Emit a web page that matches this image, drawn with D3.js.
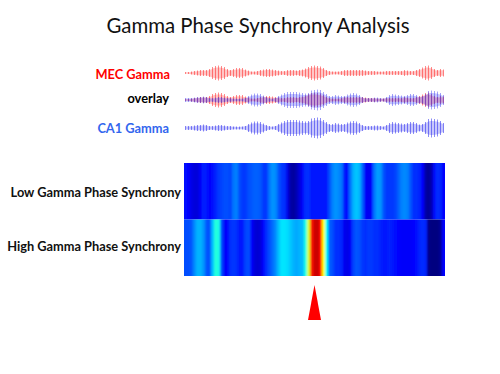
<!DOCTYPE html>
<html><head><meta charset="utf-8">
<script src="https://cdnjs.cloudflare.com/ajax/libs/d3/7.8.5/d3.min.js"></script>
<style>html,body{margin:0;padding:0;background:#fff}svg{display:block}text{font-family:Lato,"Open Sans",sans-serif}</style>
</head><body><svg id="c" width="500" height="374"></svg>
<script>
const title = "Gamma Phase Synchrony Analysis";
const waveLabels = ["MEC Gamma","overlay","CA1 Gamma"];
const heatLabels = ["Low Gamma Phase Synchrony","High Gamma Phase Synchrony"];
const mecAmp = [1,1,1.5,2,2.5,3,3,3,4,6,7,7.5,7,6,4,3,4,5,5,5,3.5,2.5,1.5,1.5,2,3,3.5,4,4,3.5,3,2.5,2,2,3,3,3,2.5,3,3.5,4.5,6,7,7.5,7,6.5,5,3,2,1.5,1.5,1.5,2,3,3,3,3,3,3,3,2.5,2,2,2,1.5,1.5,1.5,2,2,2,2,2,2,3,2.5,2,2,3,4,5.5,7,7.5,6,4,3,4,3.5];
const ca1Amp = [2,2,2,2.5,3,3,3.5,3,2,2,2.5,3,3,2.5,2,2,1.5,1.5,1.5,1.5,2,4,5.5,6.5,6.5,6,4.5,3,2,1.5,2,4,5.5,7,8,8,8,8,7.5,7,6.5,7,9.5,10,10.5,10,8,6,4,4,5,4.5,4,4,5.5,6.5,7,6.5,5,3,2,2,2,2.5,2.5,2,1.5,3,5,6,5.5,5,4.5,4,5,6,6,5,3.5,4,6,9,9.5,9,8.5,7,5];
const lowSync = [.14,.13,.10,.09,.09,.12,.16,.15,.13,.14,.16,.18,.19,.20,.20,.19,.24,.25,.20,.18,.18,.20,.21,.22,.22,.21,.18,.18,.24,.27,.26,.21,.18,.17,.10,.04,.03,.05,.09,.12,.17,.17,.15,.15,.15,.15,.15,.15,.20,.25,.27,.26,.24,.15,.14,.24,.30,.32,.30,.22,.12,.11,.13,.24,.28,.27,.21,.18,.18,.18,.19,.22,.25,.26,.25,.21,.17,.17,.16,.13,.04,.02,.05,.14,.17,.16,.13];
const highSync = [.20,.20,.21,.26,.30,.30,.27,.21,.20,.31,.41,.40,.20,.12,.13,.17,.18,.17,.15,.15,.19,.20,.13,.09,.08,.09,.13,.17,.20,.23,.26,.31,.35,.35,.34,.32,.30,.29,.30,.31,.40,.58,.85,.92,.93,.86,.62,.38,.22,.20,.17,.17,.16,.11,.10,.12,.19,.21,.20,.18,.17,.18,.18,.17,.17,.16,.15,.15,.16,.15,.14,.13,.12,.12,.12,.12,.13,.14,.16,.17,.16,.01,.00,.00,.00,.02,.13];

const svg = d3.select("#c");
const defs = svg.append("defs");
defs.append("filter").attr("id","soft").attr("x","-5%").attr("y","-5%").attr("width","110%").attr("height","110%")
  .append("feGaussianBlur").attr("stdDeviation",0.9);
defs.append("filter").attr("id","softer").attr("x","-5%").attr("y","-20%").attr("width","110%").attr("height","140%")
  .append("feGaussianBlur").attr("stdDeviation",0.35);

const idx = d3.range(lowSync.length);
const x = d3.scaleBand().domain(idx).range([184,445]);
const jet = d3.scaleLinear().domain([0,.125,.375,.625,.875,1])
  .range(["#000080","#0000ff","#00ffff","#ffff00","#ff0000","#800000"]);

svg.append("text").attr("x",258).attr("y",33).attr("text-anchor","middle")
  .attr("font-size",20.4).attr("fill","#111").text(title);

const labelG = svg.append("g").attr("font-weight",700).attr("font-size",12.8).attr("text-anchor","end");
const waveColors = ["#ff0000","#000000","#3366ee"];
const labelY = [79,103,133], labelX = [170,169,169];
waveLabels.forEach((t,i)=>labelG.append("text").attr("x",labelX[i]).attr("y",labelY[i]).attr("fill",waveColors[i]).text(t));
heatLabels.forEach((t,i)=>labelG.append("text").attr("x",181).attr("y",[197,251][i]).attr("fill","#111").text(t));

function wave(values,cy,color,lineOp){
  const a = d3.scaleLinear().domain([-12,12]).range([cy+12,cy-12]);
  const g = svg.append("g").attr("filter","url(#softer)");
  const cx = i=>x(i)+x.bandwidth()/2;
  g.append("path").datum(values)
    .attr("d",d3.area().x((d,i)=>cx(i)).y0(d=>a(-d*.75)).y1(d=>a(d*.75)).curve(d3.curveBasis))
    .attr("fill",color).attr("opacity",.25);
  g.selectAll("line").data(values).join("line")
    .attr("x1",(d,i)=>cx(i)).attr("x2",(d,i)=>cx(i))
    .attr("y1",d=>a(d)).attr("y2",d=>a(-d))
    .attr("stroke",color).attr("stroke-width",.8).attr("opacity",lineOp);
}
wave(mecAmp,73,"#ff2020",.65);
wave(mecAmp,100,"#ff2020",.65);
wave(ca1Amp,100,"#2020ee",.5);
wave(ca1Amp,128,"#2020ee",.65);

const y = d3.scaleBand().domain([0,1]).range([163,276]);
[lowSync,highSync].forEach((vals,r)=>{
  const clipId="cl"+r;
  defs.append("clipPath").attr("id",clipId).append("rect")
    .attr("x",184).attr("y",y(r)).attr("width",261).attr("height",y.bandwidth());
  svg.append("g").attr("clip-path",`url(#${clipId})`).append("g").attr("filter","url(#soft)")
   .selectAll("rect").data(vals).join("rect")
    .attr("x",(d,i)=>x(i)-(i==0?4:0)).attr("y",y(r)-4)
    .attr("width",(d,i)=>x.bandwidth()+(i==0||i==vals.length-1?4:0)+.3).attr("height",y.bandwidth()+8)
    .attr("fill",d=>jet(d));
});

svg.append("path").attr("d",d3.line()([[314.5,285],[308,320],[321,320]])+"Z").attr("fill","#ff0000");
</script></body></html>
